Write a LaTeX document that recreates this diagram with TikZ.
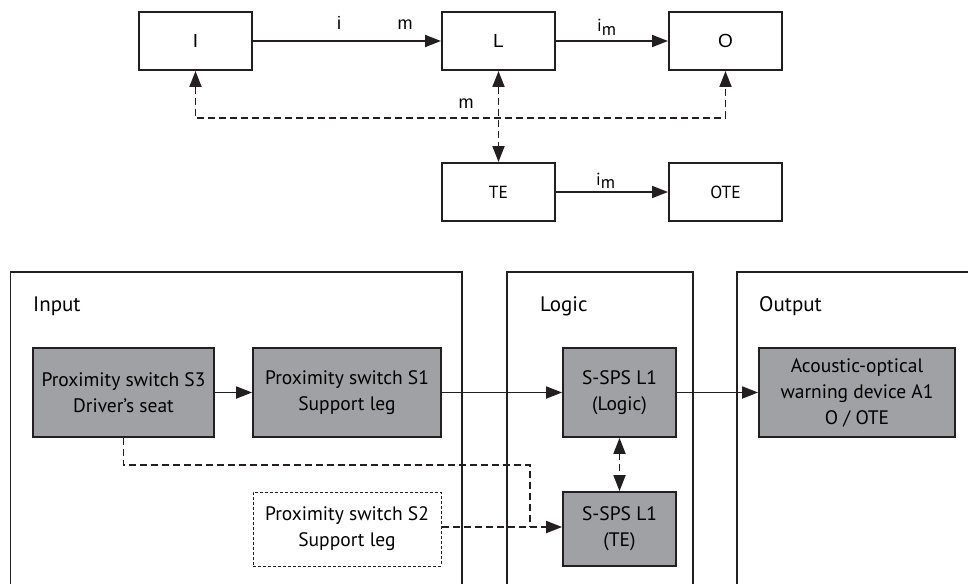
\documentclass[tikz,border=0pt]{standalone}
\usepackage{fontspec}
\setmainfont{PT Sans}
\newfontfamily\helv{Liberation Sans}
\usetikzlibrary{arrows.meta}
\definecolor{ink}{RGB}{35,31,32}
\definecolor{boxgray}{RGB}{160,161,165}
\tikzset{
  mytip/.tip={Triangle[length=16pt,width=12pt]},
  topbox/.style={draw=ink, line width=2pt, minimum width=113pt, minimum height=58pt, inner sep=0pt},
  graybox/.style={draw=ink, fill=boxgray, line width=1.8pt, inner sep=0pt, align=center,
     font=\fontsize{19.5}{26}\selectfont},
  frame/.style={draw=ink, line width=1.4pt},
  arr/.style={draw=ink, line width=1.8pt, -{mytip}},
  dsh/.style={draw=ink, line width=1.8pt, dash pattern=on 7pt off 4pt},
  lab/.style={inner sep=0pt, font=\fontsize{21}{26}\selectfont, anchor=west},
  toplab/.style={inner sep=0pt, font=\helv\fontsize{18}{20}\selectfont},
}
\newcommand{\imlab}{i\raisebox{-0.35ex}{m}}
\begin{document}
\begin{tikzpicture}[x=1pt,y=-1pt]
\useasboundingbox (0,0) rectangle (968,583);
\clip (0,0) rectangle (968,583);
% ---------- top diagram ----------
\node[topbox, font=\helv\fontsize{19}{20}\selectfont] (I) at (195.5,41) {I};
\node[topbox, font=\helv\fontsize{19}{20}\selectfont] (L) at (498.5,41) {L};
\node[topbox, font=\helv\fontsize{19}{20}\selectfont] (O) at (725.5,41) {O};
\node[topbox, font=\fontsize{17.5}{20}\selectfont] (TE) at (498.5,192) {TE};
\node[topbox, font=\fontsize{17.5}{20}\selectfont] (OTE) at (725.5,192) {OTE};
\draw[arr] (I) -- (L);
\draw[arr] (L) -- (O);
\draw[arr] (TE) -- (OTE);
\node[toplab, anchor=base] (li) at (339,30) {i};
\node[toplab, anchor=base] (lm) at (405,30) {m};
\node[inner sep=0pt, anchor=base west, font=\fontsize{17.5}{20}\selectfont] (lim) at (597,32) {\imlab};
\node[inner sep=0pt, anchor=base west, font=\fontsize{17.5}{20}\selectfont] (lim2) at (596,185) {\imlab};
\coordinate (h) at (0,118);
\draw[dsh, {mytip}-{mytip}] (I.south) -- (I.south |- h) -- (O.south |- h) -- (O.south);
\draw[dsh, {mytip}-{mytip}] (L.south) -- (TE.north);
\node[toplab, anchor=base] (lm2) at (466,109) {m};
% ---------- bottom diagram ----------
\draw[frame] (10.7,620) -- (10.7,272) -- (462,272) -- (462,620);
\draw[frame] (507,620) -- (507,272) -- (693,272) -- (693,620);
\draw[frame] (737,620) -- (737,272) -- (1000,272);
\node[lab] (tin) at (33,306) {Input};
\node[lab] (tlog) at (540,306) {Logic};
\node[lab] (tout) at (759,306) {Output};
\node[graybox, minimum width=181pt, minimum height=89pt] (S3) at (123.5,392.5) {Proximity switch S3\\Driver’s seat};
\node[graybox, minimum width=188pt, minimum height=89pt] (S1) at (347,392.5) {Proximity switch S1\\Support leg};
\node[graybox, minimum width=113pt, minimum height=89pt] (LL) at (619.5,392.5) {S-SPS L1\\(Logic)};
\node[graybox, minimum width=196pt, minimum height=89pt] (A1) at (857,392.5) {Acoustic-optical\\warning device A1\\O / OTE};
\node[graybox, minimum width=113pt, minimum height=74pt] (LT) at (619.5,529) {S-SPS L1\\(TE)};
\node[graybox, fill=none, draw=ink, line width=1pt, dash pattern=on 3pt off 2pt, minimum width=188pt, minimum height=74pt] (S2) at (347,529) {Proximity switch S2\\Support leg};
\draw[arr] (S3) -- (S1);
\draw[arr] (S1) -- (LL);
\draw[arr] (LL) -- (A1);
\draw[dsh, {mytip}-{mytip}] (LL.south) -- (LT.north);
\coordinate (j1) at (530,465);
\coordinate (j2) at (530,527);
\draw[dsh] (S3.south) -- (S3.south |- j1) -- (j1) -- (j2);
\draw[dsh, -{mytip}] (S2.east |- j2) -- (j2) -- (LT.west |- j2);
\end{tikzpicture}
\end{document}
